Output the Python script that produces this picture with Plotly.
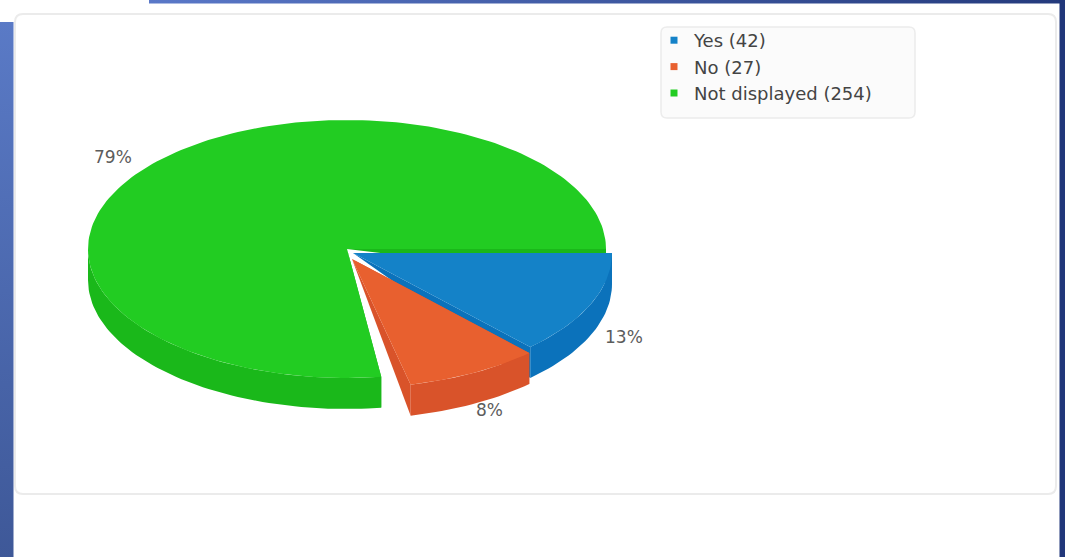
import numpy as np
import plotly.graph_objects as go

# ---- data ----
categories = ["Yes", "No", "Not displayed"]
counts = [42, 27, 254]

# ---- styling ----
top_colors = ["#1482c8", "#e8602f", "#22cc22"]
side_colors = ["#0b72bb", "#d9532a", "#1ab81a"]

W, H = 1065, 557
CX, CY = 348, 250          # centre of the tilted pie's top face (px)
RX, RY = 259, 129          # ellipse radii of the top face
DEPTH = 31                 # thickness of the 3D rim
slice_shift = [(5, 3), (4, 9), (-1, -1)]   # exploded offset per slice
start_trim_deg = [0.0, 0.0, 5.5]            # visual gap at a slice's leading edge
LABEL_K = 1.16

fig = go.Figure()


def arc(cx, cy, a0, a1, n=120):
    t = np.linspace(a0, a1, max(int(n * (a1 - a0) / np.pi) + 2, 3))
    return cx + RX * np.cos(t), cy + RY * np.sin(t)


def poly(xs, ys, color, **extra):
    fig.add_trace(go.Scatter(
        x=list(xs), y=list(ys), mode="lines", fill="toself",
        fillcolor=color, line=dict(width=0, color=color),
        hoverinfo="skip", showlegend=False, **extra))


# blue page frame drawn as gradient-filled areas
poly([0, 13.5, 13.5, 0], [22, 22, H + 2, H + 2], "#5a7ac6",
     fillgradient=dict(type="vertical",
                       colorscale=[[0, "rgb(62,88,152)"], [1, "rgb(90,122,198)"]]))
poly([149, W + 2, W + 2, 149], [-2, -2, 3.5, 3.5], "#4a66b0",
     fillgradient=dict(type="horizontal",
                       colorscale=[[0, "rgb(90,120,200)"], [1, "rgb(36,58,124)"]]))
poly([1059.5, W + 2, W + 2, 1059.5], [-2, -2, H + 2, H + 2], "rgb(33,55,122)")

total = sum(counts)
fractions = [c / total for c in counts]
bounds = np.concatenate([[0.0], np.cumsum(fractions)]) * 2 * np.pi

# back-to-front drawing order: green, blue, red
order = [2, 0, 1]
for i in order:
    a0 = bounds[i] + np.radians(start_trim_deg[i])
    a1 = bounds[i + 1]
    dx, dy = slice_shift[i]
    cx, cy = CX + dx, CY + dy
    dark, light = side_colors[i], top_colors[i]

    # cut faces along both radial edges
    for a in (a0, a1):
        px, py = cx + RX * np.cos(a), cy + RY * np.sin(a)
        poly([cx, px, px], [cy, py, py + DEPTH], dark)
    # front rim (the visible half of the ellipse)
    s, e = max(a0, 0.0), min(a1, np.pi)
    if e > s:
        tx, ty = arc(cx, cy, s, e)
        poly([*tx, *tx[::-1]], [*ty, *(ty[::-1] + DEPTH)], dark)
    # top face
    tx, ty = arc(cx, cy, a0, a1)
    poly([cx, *tx, cx], [cy, *ty, cy], light)

# percentage labels
annotations = []
for i, f in enumerate(fractions):
    mid = (bounds[i] + bounds[i + 1]) / 2
    lx = CX + LABEL_K * RX * np.cos(mid)
    ly = CY + LABEL_K * RY * np.sin(mid) + (DEPTH - 3 if np.sin(mid) > 0 else 0)
    annotations.append(dict(
        x=lx, y=ly, xref="x", yref="y", text=f"{round(f * 100)}%",
        showarrow=False, xanchor="center", yanchor="middle",
        font=dict(family="DejaVu Sans", size=17, color="#5c5c5c")))

# legend entries
for name, c, col in zip(categories, counts, top_colors):
    fig.add_trace(go.Scatter(
        x=[None], y=[None], mode="markers", name=f"{name} ({c})",
        marker=dict(symbol="square", size=7, color=col)))


def rounded_rect(x0, y0, x1, y1, r):
    return (f"M{x0 + r},{y0} L{x1 - r},{y0} Q{x1},{y0} {x1},{y0 + r} "
            f"L{x1},{y1 - r} Q{x1},{y1} {x1 - r},{y1} L{x0 + r},{y1} "
            f"Q{x0},{y1} {x0},{y1 - r} L{x0},{y0 + r} Q{x0},{y0} {x0 + r},{y0} Z")


shapes = [
    # white card with faint edge
    dict(type="path", xref="x", yref="y", path=rounded_rect(15, 14, 1056, 494, 8),
         fillcolor="#ffffff", line=dict(color="#ebebeb", width=2), layer="below"),
    # legend panel
    dict(type="path", xref="x", yref="y", path=rounded_rect(661, 27, 915, 118, 6),
         fillcolor="#fbfbfb", line=dict(color="#ececec", width=1.5), layer="below"),
]

fig.update_layout(
    width=W, height=H, autosize=False,
    margin=dict(l=0, r=0, t=0, b=0, pad=0),
    paper_bgcolor="#ffffff", plot_bgcolor="rgba(0,0,0,0)",
    xaxis=dict(range=[0, W], visible=False, fixedrange=True, domain=[0, 1]),
    yaxis=dict(range=[H, 0], visible=False, fixedrange=True, domain=[0, 1]),
    shapes=shapes, annotations=annotations,
    showlegend=True,
    legend=dict(x=654 / W, y=1 - 22 / H, xanchor="left", yanchor="top",
                bgcolor="rgba(0,0,0,0)", borderwidth=0,
                font=dict(family="DejaVu Sans", size=18, color="#444444"),
                itemclick=False, itemdoubleclick=False),
    hovermode=False,
)

fig.write_html("out.html", config={"displayModeBar": False})
